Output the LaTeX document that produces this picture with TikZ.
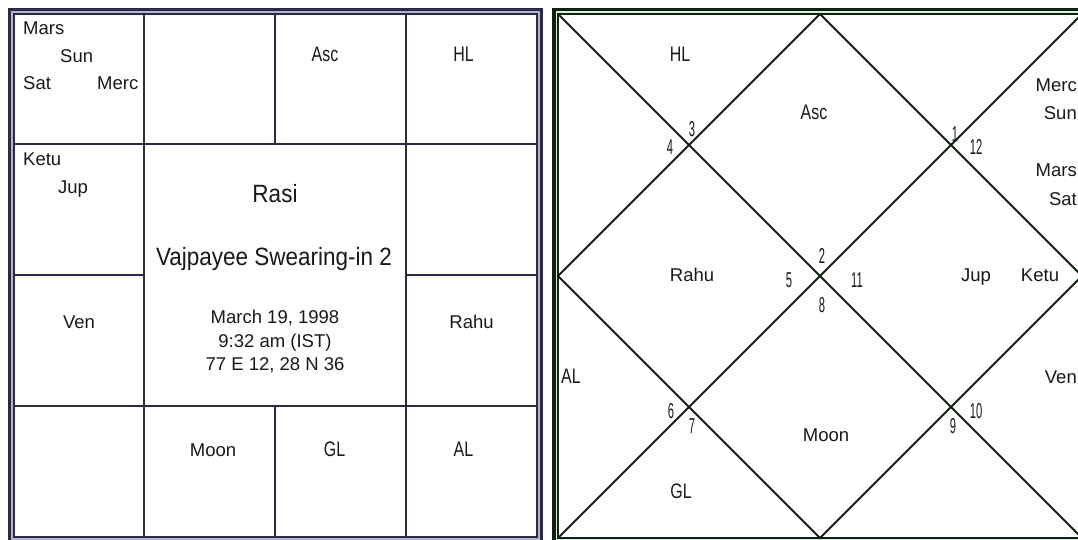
\documentclass[tikz,border=0pt]{standalone}
\usepackage{fontspec}
\setmainfont{Liberation Sans}
\definecolor{navy}{RGB}{42,42,72}
\definecolor{navylight}{RGB}{180,180,200}
\definecolor{dkgreen}{RGB}{18,32,18}
\definecolor{txt}{RGB}{25,25,25}
\begin{document}
\begin{tikzpicture}[x=1pt,y=-1pt,
  lbl/.style={inner sep=0pt, font=\fontsize{18.5}{20}\selectfont, text=txt, anchor=base},
  nar/.style={inner sep=0pt, font=\fontsize{21}{22}\selectfont, xscale=0.76, text=txt, anchor=base},
  num/.style={inner sep=0pt, font=\fontsize{21.5}{23}\selectfont, xscale=0.52, text=txt, anchor=base},
  big/.style={inner sep=0pt, font=\fontsize{25}{27}\selectfont, xscale=0.9, text=txt, anchor=base},
  gridline/.style={draw=navy, line width=2.2pt},
  diagline/.style={draw=dkgreen, line width=2pt}
]
\useasboundingbox (0,0) rectangle (1078,540);
\clip (0,0) rectangle (1078,540);
\fill[white] (0,0) rectangle (1078,540);

% ---------- left chart (south-Indian style) ----------
\fill[navylight] (9.5,9.5) rectangle (541,541.5);
\fill[white] (14,14) rectangle (537,537);
\draw[navy, line width=3pt] (9.5,9.5) rectangle (541,541.5);
\draw[navy, line width=2pt] (14,14) rectangle (537,537);
\coordinate (a1) at (144,14);  \coordinate (a2) at (144,537);
\coordinate (b1) at (406,14);  \coordinate (b2) at (406,537);
\coordinate (c1) at (14,144);  \coordinate (c2) at (537,144);
\coordinate (d1) at (14,406);  \coordinate (d2) at (537,406);
\coordinate (e1) at (275,14);  \coordinate (e2) at (275,144);
\coordinate (e3) at (275,406); \coordinate (e4) at (275,537);
\coordinate (f1) at (14,275);  \coordinate (f2) at (144,275);
\coordinate (f3) at (406,275); \coordinate (f4) at (537,275);
\draw[gridline] (a1) -- (a2);
\draw[gridline] (b1) -- (b2);
\draw[gridline] (c1) -- (c2);
\draw[gridline] (d1) -- (d2);
\draw[gridline] (e1) -- (e2);
\draw[gridline] (e3) -- (e4);
\draw[gridline] (f1) -- (f2);
\draw[gridline] (f3) -- (f4);

\node[lbl, anchor=base west] (lMars) at (23,35) {Mars};
\node[lbl, anchor=base west] (lSun) at (60,62.7) {Sun};
\node[lbl, anchor=base west] (lSat) at (23,90) {Sat};
\node[lbl, anchor=base west] (lMerc) at (97,90) {Merc};
\node[nar] (lAsc) at (325,62) {Asc};
\node[nar] (lHL) at (463.5,62) {HL};
\node[lbl, anchor=base west] (lKetu) at (23,166) {Ketu};
\node[lbl, anchor=base west] (lJup) at (58,193.5) {Jup};
\node[big] (rasi) at (275,203) {Rasi};
\node[big] (title) at (274,265) {Vajpayee Swearing-in 2};
\node[lbl] (date) at (275,323.3) {March 19, 1998};
\node[lbl] (time) at (275,347.3) {9:32 am (IST)};
\node[lbl] (place) at (275,370.7) {77 E 12, 28 N 36};
\node[lbl] (lVen) at (79,328) {Ven};
\node[lbl] (lRahu) at (471.5,328) {Rahu};
\node[lbl] (lMoon) at (213,456) {Moon};
\node[nar] (lGL) at (334.5,456) {GL};
\node[nar] (lAL) at (463.5,456) {AL};

% ---------- right chart (north-Indian style) ----------
\fill[navylight!60!green!30!white] (554,9.5) rectangle (1090,542);
\fill[white] (558,14) rectangle (1082,538);
\draw[dkgreen, line width=3.5pt] (554,9.5) rectangle (1090,542);
\draw[dkgreen, line width=2pt] (558,14) rectangle (1082,538);
\coordinate (TL) at (558,14);  \coordinate (TR) at (1082,14);
\coordinate (BL) at (558,538); \coordinate (BR) at (1082,538);
\coordinate (T) at (820,14);   \coordinate (B) at (820,538);
\coordinate (L) at (558,276);  \coordinate (R) at (1082,276);
\draw[diagline] (TL) -- (BR);
\draw[diagline] (BL) -- (TR);
\draw[diagline] (T) -- (R) -- (B) -- (L) -- cycle;

\node[nar] (rHL) at (680,62) {HL};
\node[nar] (rAsc) at (814,120) {Asc};
\node[num] (n3) at (692,137) {3};
\node[num] (n4) at (670,155) {4};
\node[num] (n1) at (955,142) {1};
\node[num] (n12) at (976,155) {12};
\node[lbl, anchor=base east] (rMerc) at (1077,92) {Merc};
\node[lbl, anchor=base east] (rSun) at (1077,120) {Sun};
\node[lbl, anchor=base east] (rMars) at (1077,177) {Mars};
\node[lbl, anchor=base east] (rSat) at (1077,205) {Sat};
\node[lbl] (rRahu) at (692,281.5) {Rahu};
\node[num] (n2) at (822,263) {2};
\node[num] (n5) at (789,287) {5};
\node[num] (n11) at (857,287) {11};
\node[num] (n8) at (822,312) {8};
\node[lbl] (rJup) at (976,281.5) {Jup};
\node[lbl] (rKetu) at (1040,281.5) {Ketu};
\node[nar] (rAL) at (571,383) {AL};
\node[num] (n6) at (671,418) {6};
\node[num] (n7) at (692,433) {7};
\node[nar] (rGL) at (681,498) {GL};
\node[lbl] (rMoon) at (826,441) {Moon};
\node[lbl, anchor=base east] (rVen) at (1077,383) {Ven};
\node[num] (n9) at (953,433) {9};
\node[num] (n10) at (976,418) {10};
\end{tikzpicture}
\end{document}
